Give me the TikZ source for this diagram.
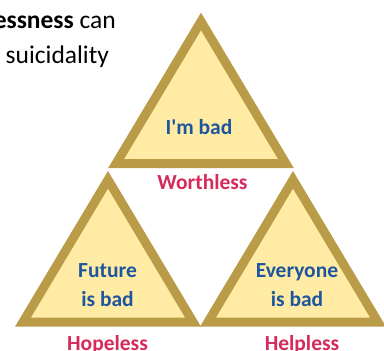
\documentclass[tikz,border=0pt]{standalone}
\usepackage{fontspec}
\setmainfont{Carlito}
\usetikzlibrary{positioning}
\definecolor{trigold}{HTML}{BA9B48}
\definecolor{trilight}{HTML}{FFEBA3}
\definecolor{triblue}{HTML}{1D569F}
\definecolor{trired}{HTML}{D42A5C}

\begin{document}
\begin{tikzpicture}[x=1pt,y=-1pt,
  tri/.style={draw=trigold,fill=trilight,line width=9pt,line join=miter},
  inside/.style={text=triblue,font=\fontsize{21.5}{29}\selectfont\bfseries,
              align=center,inner sep=0pt,anchor=base},
  tag/.style={text=trired,font=\fontsize{21.5}{26}\selectfont\bfseries,
              inner sep=0pt,anchor=base},
  lead/.style={font=\fontsize{25.5}{35}\selectfont,inner sep=0pt}]
  \useasboundingbox (0,0) rectangle (384,351);
  \foreach \n/\ax/\ay in {top/201/12.7,left/108/171,right/293/171}
    \draw[tri] (\ax,\ay+8.75) coordinate (\n) -- (\ax+85,\ay+151)
               -- (\ax-85,\ay+151) -- cycle;
  \node[lead,anchor=base east] (lead1) at (116,28) {\textbf{essness} can};
  \node[lead,anchor=base west] (lead2) at (5.5,63) {suicidality};
  \node[inside] (self) at (199,134) {I\textquotesingle m bad};
  \node[inside] (future) at (107.5,306) {Future\\is bad};
  \node[inside] (others) at (297,306) {Everyone\\is bad};
  \node[tag] (worth) at (202.5,189) {Worthless};
  \node[tag] (hope) at (107.5,350.5) {Hopeless};
  \node[tag] (help) at (302,350.5) {Helpless};
\end{tikzpicture}
\end{document}
